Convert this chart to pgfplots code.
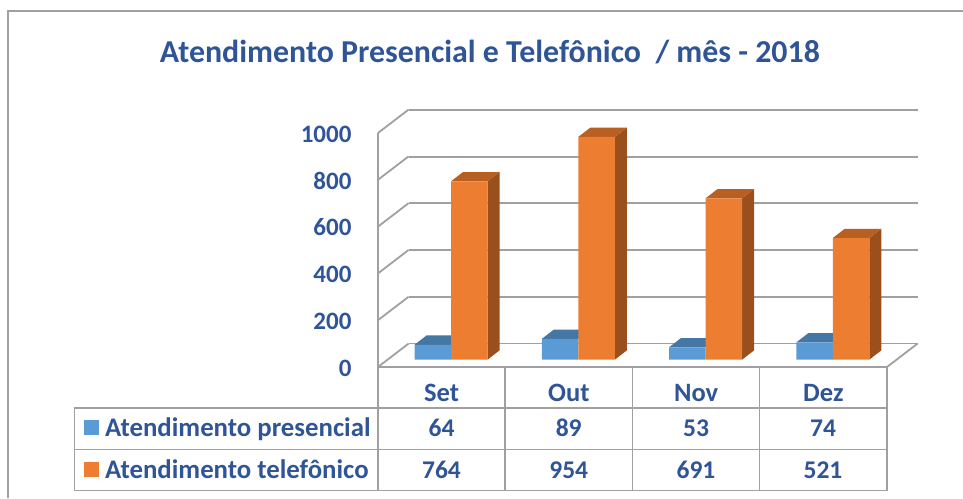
\documentclass[border=0pt]{standalone}
\usepackage{fontspec}
\setmainfont{Carlito}
\usepackage{pgfplots}
\usepackage{pgfplotstable}
\pgfplotsset{compat=1.18}

\definecolor{txtblue}{HTML}{2F5597}
\definecolor{cblue}{HTML}{5B9BD5}
\definecolor{cbluetop}{HTML}{4477A3}
\definecolor{corange}{HTML}{ED7D31}
\definecolor{corangetop}{HTML}{B85F22}
\definecolor{corangeside}{HTML}{9A4F1C}
\definecolor{gridgray}{HTML}{A0A0A0}

\newcommand{\tabfont}{\fontsize{25.5}{30}\selectfont\bfseries\color{txtblue}}
\newcommand{\catfont}{\fontsize{26.5}{30}\selectfont\bfseries\color{txtblue}}
\newcommand{\legfont}{\fontsize{26.8}{30}\selectfont\bfseries\color{txtblue}}

\pgfplotstableread{
x    presencial telefonico
0.5  64         764
1.5  89         954
2.5  53         691
3.5  74         521
}\dados

\pgfplotsset{
  plane/.style={
    scale only axis, clip=false,
    xmin=0, xmax=4, ymin=0, ymax=1000,
    major tick length=0pt,
    xtick=\empty,
    ytick={0,200,400,600,800,1000},
  },
}

\begin{document}
\begin{tikzpicture}[x=1pt,y=1pt]
\useasboundingbox (0,0) rectangle (963,498);

% back wall with the grid lines
\begin{axis}[plane,
    at={(408.5pt,154.5pt)}, anchor=south west,
    width=509.5pt, height=233.5pt,
    axis line style={draw=none},
    yticklabels={},
    ymajorgrids,
    grid style={gridgray, line width=1.8pt},
]
\end{axis}

% front plane: y axis, wall diagonals, floor edge
\begin{axis}[plane,
    at={(378pt,131pt)}, anchor=south west,
    width=509pt, height=234pt,
    axis lines=left,
    axis line style={-, gridgray, line width=1.8pt},
    /pgf/number format/assume math mode=true,
    /pgf/number format/1000 sep={},
    yticklabel style={font=\fontsize{25}{30}\selectfont\bfseries, text=txtblue,
      text height=0.65em, text depth=0pt, xshift=-23pt, yshift=-6pt},
    xtick={0.5,1.5,2.5,3.5},
    xticklabels={Set,Out,Nov,Dez},
    xticklabel style={font=\catfont, anchor=base, yshift=-34.7pt},
]
\addplot[gridgray, line width=1.8pt] coordinates {(0,0) (0.24,100)};
\addplot[gridgray, line width=1.8pt] coordinates {(0,200) (0.24,300)};
\addplot[gridgray, line width=1.8pt] coordinates {(0,400) (0.24,500)};
\addplot[gridgray, line width=1.8pt] coordinates {(0,600) (0.24,700)};
\addplot[gridgray, line width=1.8pt] coordinates {(0,800) (0.24,900)};
\addplot[gridgray, line width=1.8pt] coordinates {(0,1000) (0.24,1100)};
\addplot[gridgray, line width=1.8pt] coordinates {(4,0) (4.24,100)};
\end{axis}

% bars
\begin{axis}[plane,
    at={(387.4pt,138.3pt)}, anchor=south west,
    width=509pt, height=233.5pt,
    axis line style={draw=none},
    yticklabels={},
]
% tops of the blue bars
\addplot[fill=cbluetop, draw=none] coordinates {(.2132,64) (.5,64) (.5943,103.8) (.3075,103.8)} -- cycle;
\addplot[fill=cbluetop, draw=none] coordinates {(1.2132,89) (1.5,89) (1.5943,128.8) (1.3075,128.8)} -- cycle;
\addplot[fill=cbluetop, draw=none] coordinates {(2.2132,53) (2.5,53) (2.5943,92.8) (2.3075,92.8)} -- cycle;
\addplot[fill=cbluetop, draw=none] coordinates {(3.2132,74) (3.5,74) (3.5943,113.8) (3.3075,113.8)} -- cycle;
% sides of the orange bars
\addplot[fill=corangeside, draw=none] coordinates {(.7868,0) (.8811,39.8) (.8811,803.8) (.7868,764)} -- cycle;
\addplot[fill=corangeside, draw=none] coordinates {(1.7868,0) (1.8811,39.8) (1.8811,993.8) (1.7868,954)} -- cycle;
\addplot[fill=corangeside, draw=none] coordinates {(2.7868,0) (2.8811,39.8) (2.8811,730.8) (2.7868,691)} -- cycle;
\addplot[fill=corangeside, draw=none] coordinates {(3.7868,0) (3.8811,39.8) (3.8811,560.8) (3.7868,521)} -- cycle;
% tops of the orange bars
\addplot[fill=corangetop, draw=none] coordinates {(.5,764) (.7868,764) (.8811,803.8) (.5943,803.8)} -- cycle;
\addplot[fill=corangetop, draw=none] coordinates {(1.5,954) (1.7868,954) (1.8811,993.8) (1.5943,993.8)} -- cycle;
\addplot[fill=corangetop, draw=none] coordinates {(2.5,691) (2.7868,691) (2.8811,730.8) (2.5943,730.8)} -- cycle;
\addplot[fill=corangetop, draw=none] coordinates {(3.5,521) (3.7868,521) (3.8811,560.8) (3.5943,560.8)} -- cycle;
% front faces
\addplot[ybar, bar width=36.5pt, bar shift=-18.25pt, fill=cblue, draw=none] table[x=x, y=presencial] {\dados};
\addplot[ybar, bar width=36.5pt, bar shift=18.25pt, fill=corange, draw=none] table[x=x, y=telefonico] {\dados};
\end{axis}

% frame, title, data table (pixel coordinates, y downwards)
\begin{scope}[yshift=498pt, y=-1pt]
\draw[gridgray, line width=1.6pt] (8,498) -- (8,11) -- (963,11);
\node[font=\fontsize{31.9}{36}\selectfont\bfseries, text=txtblue, anchor=base, inner sep=0pt] at (490,63)
  {Atendimento Presencial e Telefônico\ \ / mês - 2018};

\draw[gridgray, line width=1.5pt] (74.7,408) rectangle (887,449.5);
\draw[gridgray, line width=1.5pt] (74.7,449.5) rectangle (887,490.5);
\draw[gridgray, line width=1.5pt] (378,367) -- (378,490.5);
\draw[gridgray, line width=1.5pt] (505,367) -- (505,490.5);
\draw[gridgray, line width=1.5pt] (632.5,367) -- (632.5,490.5);
\draw[gridgray, line width=1.5pt] (759.5,367) -- (759.5,490.5);
\draw[gridgray, line width=1.5pt] (887,367) -- (887,490.5);

\fill[cblue] (84,420) rectangle (99,435);
\fill[corange] (84,462) rectangle (99,477);
\node[font=\legfont, anchor=base west, inner sep=0pt] at (105,436.5) {Atendimento presencial};
\node[font=\legfont, anchor=base west, inner sep=0pt] at (105,478) {Atendimento telefônico};

\node[font=\tabfont, anchor=base] at (441.5,436) {64};
\node[font=\tabfont, anchor=base] at (568.7,436) {89};
\node[font=\tabfont, anchor=base] at (696,436) {53};
\node[font=\tabfont, anchor=base] at (823,436) {74};
\node[font=\tabfont, anchor=base] at (441.5,478) {764};
\node[font=\tabfont, anchor=base] at (568.7,478) {954};
\node[font=\tabfont, anchor=base] at (696,478) {691};
\node[font=\tabfont, anchor=base] at (823,478) {521};
\end{scope}
\end{tikzpicture}
\end{document}
